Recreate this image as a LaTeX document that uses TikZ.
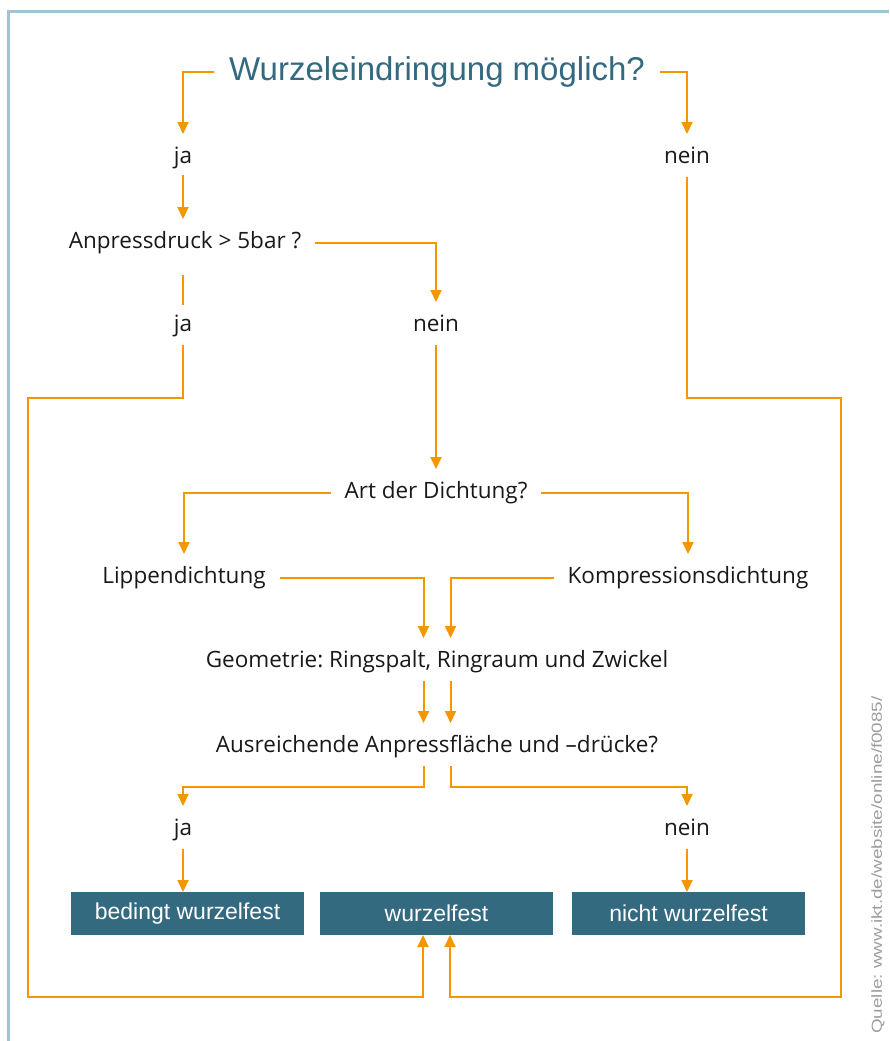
\documentclass[tikz,border=0pt]{standalone}
\usepackage{fontspec}
\usepackage{graphicx}
\setmainfont{Open Sans}
\newfontfamily\arialf{Liberation Sans}
\usetikzlibrary{arrows.meta}
\definecolor{teal1}{RGB}{51,106,128}
\definecolor{orng}{RGB}{243,150,0}
\definecolor{frame}{RGB}{160,195,214}
\definecolor{txt}{RGB}{25,25,25}
\frenchspacing
\tikzset{
  lbl/.style={font=\fontsize{22.5}{26}\selectfont, text=txt, inner xsep=14pt, inner ysep=0pt, outer sep=0pt, text height=16pt, text depth=5pt},
  res/.style={fill=teal1, text=white, font=\arialf\fontsize{23}{26}\selectfont, minimum width=233pt, minimum height=43pt, inner sep=0pt, outer sep=0pt},
  conn/.style={draw=orng, line width=2pt},
  arr/.style={conn, -{Triangle[length=12pt,width=11pt]}},
  into/.style={shorten >=13.5pt},
  outof/.style={shorten <=8.5pt}
}
\begin{document}
\begin{tikzpicture}[x=1pt,y=-1pt]
\useasboundingbox (0,0) rectangle (889,1041);
\fill[white] (0,0) rectangle (889,1041);
% frame
\draw[frame, line width=3pt] (8.5,1041) -- (8.5,11.5) -- (889,11.5);
% nodes
\node[lbl, font=\arialf\fontsize{33}{36}\selectfont, text=teal1, text height=24pt, text depth=7pt, inner xsep=15pt] (title) at (437,72) {Wurzeleindringung möglich?};
\node[lbl] (ja1) at (183,158) {ja};
\node[lbl] (nein1) at (687,158) {nein};
\node[lbl] (anp) at (185,243) {Anpressdruck > 5bar ?};
\node[lbl] (ja2) at (183,326) {ja};
\node[lbl] (nein2) at (436,326) {nein};
\node[lbl] (art) at (436,493) {Art der Dichtung?};
\node[lbl] (lip) at (184,578) {Lippendichtung};
\node[lbl] (komp) at (688,578) {Kompressionsdichtung};
\node[lbl] (geo) at (437,662) {Geometrie: Ringspalt, Ringraum und Zwickel};
\node[lbl] (aus) at (437,747) {Ausreichende Anpressfläche und –drücke?};
\node[lbl] (ja3) at (183,830) {ja};
\node[lbl] (nein3) at (687,830) {nein};
\node[res] (bw) at (187.5,913.5) {bedingt wurzelfest};
\node[res] (wf) at (436.5,913.5) {wurzelfest};
\node[res] (nw) at (688.5,913.5) {nicht wurzelfest};
\node[rotate=90, text=black!38, font=\arialf\fontsize{14.5}{16}\selectfont, inner sep=0pt] (src) at (878,865) {\scalebox{1.3}[1.0]{Quelle: www.ikt.de/website/online/f0085/}};
\coordinate (lt) at (28,398);
\coordinate (lb) at (28,997);
\coordinate (rt) at (841,398);
\coordinate (rb) at (841,997);
% connectors
\draw[arr, into] (title.west) -| (ja1.north);
\draw[arr, into] (title.east) -| (nein1.north);
\draw[arr, into, shorten <=6.5pt] (ja1.south) -- (ja1.south |- anp.north);
\draw[arr, into] (anp.east) -| (nein2.north);
\draw[conn, shorten <=21.5pt, shorten >=10.5pt] (ja2.north |- anp.south) -- (ja2.north);
\draw[arr, outof] (ja2.south) |- (lt) -- (lb) -| ([xshift=-13.5pt]wf.south);
\draw[arr, outof] (nein1.south) |- (rt) -- (rb) -| ([xshift=13.5pt]wf.south);
\draw[arr, into, outof] (nein2.south) -- (art.north);
\draw[arr, into] (art.west) -| (lip.north);
\draw[arr, into] (art.east) -| (komp.north);
\draw[arr, into] (lip.east) -| ([xshift=-13.5pt]geo.north);
\draw[arr, into] (komp.west) -| ([xshift=13.5pt]geo.north);
\draw[arr, into, outof] ([xshift=-13.5pt]geo.south) -- ([xshift=-13.5pt]aus.north);
\draw[arr, into, outof] ([xshift=13.5pt]geo.south) -- ([xshift=13.5pt]aus.north);
\draw[arr, into, outof] ([xshift=-13.5pt]aus.south) -- ++(0,29.5) -| (ja3.north);
\draw[arr, into, outof] ([xshift=13.5pt]aus.south) -- ++(0,29.5) -| (nein3.north);
\draw[arr, outof] (ja3.south) -- (ja3.south |- bw.north);
\draw[arr, outof] (nein3.south) -- (nein3.south |- nw.north);
\end{tikzpicture}
\end{document}
